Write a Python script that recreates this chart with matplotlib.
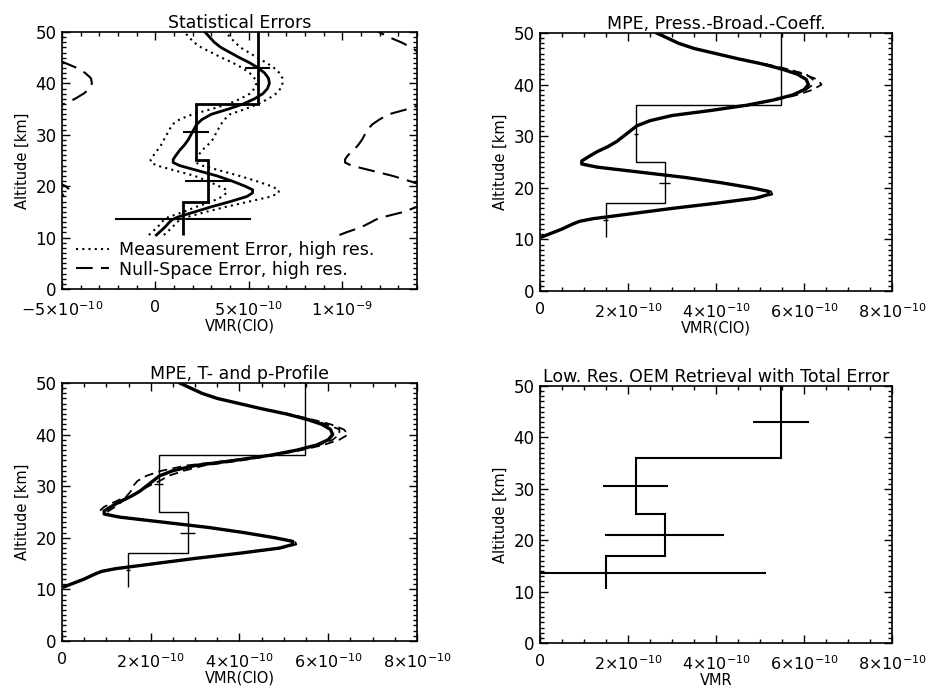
#!/usr/bin/env python3
import matplotlib

matplotlib.use("Agg")
import matplotlib.pyplot as plt
from matplotlib.ticker import MultipleLocator
import numpy as np

# high resolution ClO profile, VMR in units of 1e-10
ALT = [10.5, 11, 12, 13, 13.5, 14, 15, 16, 17, 18, 18.7, 19.3, 20, 21, 22, 23, 24, 24.6,
       25.2, 26, 27, 28, 29, 30, 31, 32, 33, 34, 35, 36, 37, 38, 39, 40, 41, 42, 43, 44,
       45, 46, 47, 48, 49, 50, 51]
PROFILE = [0.05, 0.2, 0.5, 0.75, 0.9, 1.2, 2.1, 3.0, 4.0, 4.9, 5.2, 5.2, 4.8, 4.1, 3.3, 2.3,
           1.3, 0.95, 0.95, 1.1, 1.3, 1.55, 1.75, 1.9, 2.05, 2.2, 2.5, 3.0, 3.9, 4.7, 5.3,
           5.75, 6.0, 6.1, 6.05, 5.85, 5.5, 5.05, 4.5, 4.0, 3.5, 3.15, 2.9, 2.65, 2.5]
MEAS_ERR = [0.4, 0.4, 0.4, 0.4, 0.45, 0.5, 0.6, 0.8, 1.0, 1.3, 1.4, 1.4, 1.4, 1.3, 1.2, 1.2,
            1.2, 1.2, 1.2, 1.2, 1.2, 1.25, 1.3, 1.3, 1.3, 1.3, 1.2, 1.0, 0.9, 0.8, 0.75,
            0.7, 0.7, 0.7, 0.75, 0.8, 0.85, 0.9, 0.95, 1.0, 1.05, 1.1, 1.1, 1.1, 1.1]
NULL_ERR = [9.8, 10.0, 10.5, 10.8, 10.9, 11.0, 11.2, 11.0, 10.5, 10.0, 9.9, 9.8, 9.6, 9.5,
            9.4, 9.3, 9.2, 9.2, 9.2, 9.2, 9.3, 9.3, 9.3, 9.3, 9.3, 9.4, 9.5, 9.5, 9.6, 9.6,
            9.6, 9.6, 9.5, 9.5, 9.5, 9.6, 9.7, 9.9, 10.0, 10.1, 10.2, 10.0, 9.6, 9.3, 9.2]
# perturbed retrievals (deviation from profile), pressure broadening coefficient
PB_DEV_A = [0, 0, 0, 0, 0, 0, 0, 0, 0, 0.05, 0.08, 0.05, 0, 0, 0, 0, 0, 0.05, 0.05, 0, 0, 0,
            0, 0, 0, 0, 0, 0, 0, 0.05, 0.05, 0.1, 0.2, 0.3, 0.25, 0.15, 0.1, 0.05, 0, 0, 0,
            0, 0, 0, 0]
PB_DEV_B = [0, 0, 0, 0, 0, 0, 0, 0, 0, 0, 0, 0, 0, 0, 0, 0, 0, 0, 0, 0, 0, 0, 0, 0, 0, 0,
            0, 0, 0, 0, 0, 0, 0.05, 0.1, 0.15, 0.2, 0.12, 0.05, 0, 0, 0, 0, 0, 0, 0]
# perturbed retrievals, temperature and pressure profile
TP_DEV_A = [0, 0, 0, 0, 0, 0, 0, 0, 0, 0.05, 0.08, 0.05, 0, 0, 0, 0, 0, 0.05, 0.1, 0.1, 0.05,
            0, 0, 0.05, 0.15, 0.2, 0.25, 0.2, 0.15, 0.1, 0.1, 0.15, 0.25, 0.35, 0.3, 0.2,
            0.1, 0.05, 0, 0, 0, 0, 0, 0, 0]
TP_DEV_B = [0, 0, 0, 0, 0, 0, 0, 0, 0, 0, 0, 0, 0, 0, 0, 0, 0, 0, -0.1, -0.15, -0.1, -0.1,
            -0.2, -0.3, -0.35, -0.3, -0.25, -0.2, -0.1, 0, 0, 0.05, 0.1, 0.15, 0.2, 0.1,
            0.05, 0, 0, 0, 0, 0, 0, 0, 0]

# low resolution OEM retrieval
STEP_EDGES = [10.5, 17.0, 25.0, 36.0, 51.0]
STEP_VMR = [1.49, 2.83, 2.18, 5.48]
RET_ALT = [13.7, 21.0, 30.5, 43.0]
RET_VMR = [1.49, 2.83, 2.18, 5.48]
MEAS_BAR = [3.65, 1.23, 0.71, 0.66]
PB_BAR = [0.05, 0.12, 0.05, 0.08]
TP_BAR = [0.05, 0.17, 0.1, 0.08]
TOTAL_BAR = [3.65, 1.35, 0.74, 0.64]

TICKS_WIDE = [-5, 0, 5, 10]
LABELS_WIDE = [r"$-5{\times}10^{-10}$", "0", r"$5{\times}10^{-10}$", r"$1{\times}10^{-9}$"]
TICKS = [0, 2, 4, 6, 8]
LABELS = ["0", r"$2{\times}10^{-10}$", r"$4{\times}10^{-10}$", r"$6{\times}10^{-10}$",
          r"$8{\times}10^{-10}$"]

plt.rcParams["mathtext.fontset"] = "dejavusans"
plt.rcParams["axes.linewidth"] = 1.2


def style_axes(ax, title, xlabel, ticks, labels, xlim, xminor):
    ax.set_xlim(*xlim)
    ax.set_ylim(0, 50)
    ax.set_xticks(ticks, labels)
    ax.set_yticks([0, 10, 20, 30, 40, 50])
    ax.xaxis.set_minor_locator(MultipleLocator(xminor))
    ax.yaxis.set_minor_locator(MultipleLocator(1))
    ax.tick_params(which="both", direction="in", top=True, right=True, width=1)
    ax.tick_params(which="major", length=6)
    ax.tick_params(which="minor", length=3)
    ax.tick_params(axis="x", pad=8, labelsize=11.5)
    ax.tick_params(axis="y", pad=4, labelsize=12)
    ax.set_title(title, fontsize=12.5, pad=3)
    ax.set_xlabel(xlabel, fontsize=10.5, labelpad=0)
    ax.set_ylabel("Altitude [km]", fontsize=10.5, labelpad=4)


def draw_retrieval(ax, bars, lw_step, lw_bar):
    ax.stairs(STEP_VMR, STEP_EDGES, orientation="horizontal", baseline=None,
              color="black", linewidth=lw_step)
    ax.errorbar(RET_VMR, RET_ALT, xerr=bars, fmt="none", ecolor="black",
                elinewidth=lw_bar, capsize=0)


alt = np.array(ALT)
prof = np.array(PROFILE)

fig = plt.figure(figsize=(9.31, 6.91), dpi=100)
ax1 = fig.add_axes([0.0666, 0.5818, 0.3813, 0.3719])
ax2 = fig.add_axes([0.5800, 0.5789, 0.3781, 0.3734])
ax3 = fig.add_axes([0.0666, 0.0724, 0.3813, 0.3734])
ax4 = fig.add_axes([0.5800, 0.0695, 0.3781, 0.3719])

# statistical errors
meas = np.array(MEAS_ERR)
null = np.array(NULL_ERR)
ax1.plot(prof, alt, color="black", linewidth=2.0)
ax1.plot(prof - meas, alt, color="black", linewidth=1.5, dashes=(1, 2.0),
         label="Measurement Error, high res.")
ax1.plot(prof + meas, alt, color="black", linewidth=1.5, dashes=(1, 2.0))
ax1.plot(prof - null, alt, color="black", linewidth=1.5, dashes=(8, 4),
         label="Null-Space Error, high res.")
ax1.plot(prof + null, alt, color="black", linewidth=1.5, dashes=(8, 4))
draw_retrieval(ax1, MEAS_BAR, 2.0, 1.5)
style_axes(ax1, "Statistical Errors", "VMR(ClO)", TICKS_WIDE, LABELS_WIDE, (-5, 14), 1)
ax1.legend(loc="lower left", bbox_to_anchor=(0.01, 0.0), frameon=False, fontsize=12.5,
           handlelength=1.9, handletextpad=0.6, labelspacing=0.1, borderaxespad=0.2)

# pressure broadening coefficient
ax2.plot(prof, alt, color="black", linewidth=2.4)
ax2.plot(prof + np.array(PB_DEV_A), alt, color="black", linewidth=1.3, dashes=(5, 3))
ax2.plot(prof + np.array(PB_DEV_B), alt, color="black", linewidth=1.3, dashes=(5, 3))
draw_retrieval(ax2, PB_BAR, 1.0, 1.0)
style_axes(ax2, "MPE, Press.-Broad.-Coeff.", "VMR(ClO)", TICKS, LABELS, (0, 8), 0.5)

# temperature and pressure profile
ax3.plot(prof, alt, color="black", linewidth=2.4)
ax3.plot(prof + np.array(TP_DEV_A), alt, color="black", linewidth=1.3, dashes=(5, 3))
ax3.plot(prof + np.array(TP_DEV_B), alt, color="black", linewidth=1.3, dashes=(5, 3))
draw_retrieval(ax3, TP_BAR, 1.0, 1.0)
style_axes(ax3, "MPE, T- and p-Profile", "VMR(ClO)", TICKS, LABELS, (0, 8), 0.5)

# low resolution retrieval with total error
draw_retrieval(ax4, TOTAL_BAR, 1.5, 1.5)
style_axes(ax4, "Low. Res. OEM Retrieval with Total Error", "VMR", TICKS, LABELS, (0, 8), 0.5)

fig.savefig("out.png", dpi=100)
